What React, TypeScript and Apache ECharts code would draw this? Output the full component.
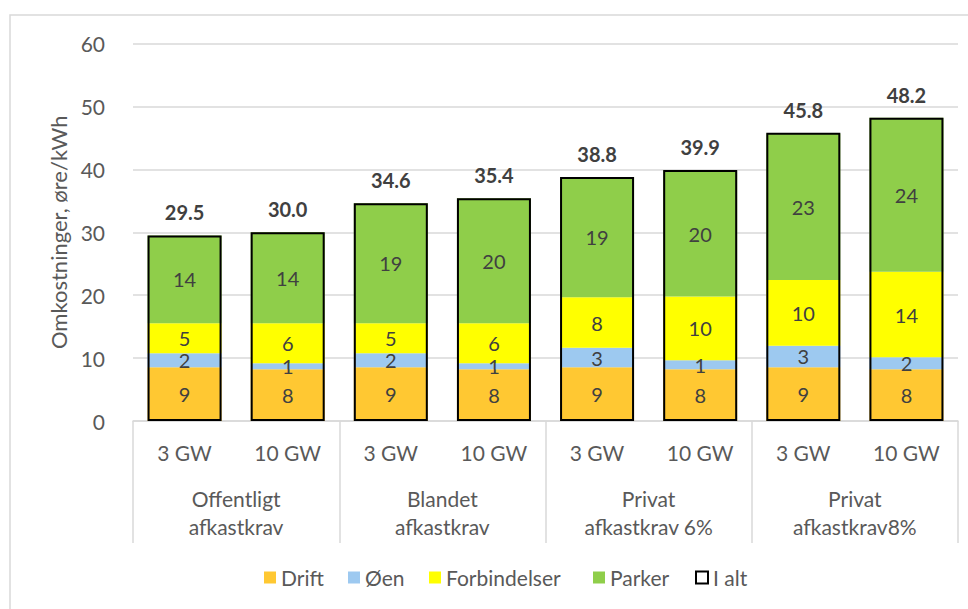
import React, { useEffect, useRef } from "react";
import * as echarts from "echarts";

const innerCats = ["3 GW", "10 GW", "3 GW", "10 GW", "3 GW", "10 GW", "3 GW", "10 GW"];
const groupCats = [
  "Offentligt\nafkastkrav",
  "Blandet\nafkastkrav",
  "Privat\nafkastkrav 6%",
  "Privat\nafkastkrav8%",
];
const drift = [8.53, 8.21, 8.53, 8.21, 8.53, 8.21, 8.53, 8.21];
const oen = [2.23, 0.96, 2.23, 0.96, 3.12, 1.45, 3.45, 1.91];
const forbindelser = [4.77, 6.36, 4.77, 6.36, 8.01, 10.12, 10.45, 13.61];
const parker = [13.97, 14.47, 19.07, 19.87, 19.14, 19.98, 23.28, 24.47];
const total = [29.5, 30.0, 34.6, 35.4, 38.8, 39.9, 45.8, 48.2];
const yTicks = { min: 0, max: 60, interval: 10 };
const legendNames = ["Drift", "Øen", "Forbindelser", "Parker", "I alt"];

const FONT = "Lato";
const GRAY = "#595959";
const DARK = "#404040";
const LINE = "#d9d9d9";

export default function App() {
  const ref = useRef<HTMLDivElement>(null);
  useEffect(() => {
    if (!ref.current) return;
    const chart = echarts.init(ref.current, undefined, { renderer: "svg" });
    const segLabel = {
      show: true,
      position: "inside",
      fontFamily: FONT,
      fontSize: 20,
      color: DARK,
      formatter: (p: any) => String(Math.round(p.value)),
    };
    const seg = (name: string, data: number[], color: string) => ({
      name,
      type: "bar",
      stack: "cost",
      data,
      barWidth: 74,
      barGap: "-100%",
      itemStyle: { color },
      label: segLabel,
      xAxisIndex: 0,
    });
    const legendLeft = [259, 343, 424, 588, 690];
    const legends = legendNames.map((n, i) => ({
      top: 562,
      left: legendLeft[i],
      itemWidth: 12,
      itemHeight: 12,
      itemGap: 8,
      icon: "rect",
      textStyle: { fontFamily: FONT, fontSize: 21, color: GRAY },
      data: [
        n === "I alt"
          ? { name: n, itemStyle: { color: "#ffffff", borderColor: "#000000", borderWidth: 2 } }
          : { name: n },
      ],
    }));
    chart.setOption({
      animation: false,
      textStyle: { fontFamily: FONT },
      graphic: [
        {
          type: "rect",
          shape: { x: 10, y: 15, width: 1000, height: 700 },
          style: { fill: "none", stroke: LINE, lineWidth: 1.5 },
          silent: true,
        },
      ],
      grid: { left: 133, right: 10, top: 43.5, bottom: 188, containLabel: false },
      legend: legends,
      xAxis: [
        {
          type: "category",
          data: innerCats,
          position: "bottom",
          axisLine: { show: true, lineStyle: { color: LINE, width: 1.5 } },
          axisTick: { show: false },
          axisLabel: { fontFamily: FONT, fontSize: 21, color: GRAY, margin: 21, interval: 0 },
        },
        {
          type: "category",
          data: groupCats,
          position: "bottom",
          axisLine: { show: false },
          axisTick: {
            show: true,
            interval: 0,
            length: 122,
            lineStyle: { color: LINE, width: 1.5 },
          },
          axisLabel: {
            fontFamily: FONT,
            fontSize: 21,
            color: GRAY,
            margin: 63,
            lineHeight: 28,
            interval: 0,
          },
        },
      ],
      yAxis: {
        type: "value",
        min: yTicks.min,
        max: yTicks.max,
        interval: yTicks.interval,
        name: "Omkostninger, øre/kWh",
        nameLocation: "middle",
        nameRotate: 90,
        nameGap: 64,
        nameTextStyle: { fontFamily: FONT, fontSize: 22, color: GRAY },
        axisLine: { show: false },
        axisTick: { show: false },
        axisLabel: { fontFamily: FONT, fontSize: 21, color: GRAY, margin: 28 },
        splitLine: { lineStyle: { color: LINE, width: 1.5 } },
      },
      series: [
        seg("Drift", drift, "#FFC832"),
        seg("Øen", oen, "#9DC9F0"),
        seg("Forbindelser", forbindelser, "#FFFF00"),
        seg("Parker", parker, "#8FCE4A"),
        {
          name: "I alt",
          type: "bar",
          data: total,
          barWidth: 74,
          barGap: "-100%",
          z: 5,
          xAxisIndex: 0,
          itemStyle: { color: "rgba(0,0,0,0)", borderColor: "#000000", borderWidth: 2 },
          label: {
            show: true,
            position: "top",
            distance: 13,
            fontFamily: FONT,
            fontSize: 20,
            fontWeight: "bold",
            color: DARK,
            formatter: (p: any) => Number(p.value).toFixed(1),
          },
        },
      ],
    });
    return () => chart.dispose();
  }, []);
  return (
    <div
      ref={ref}
      style={{ position: "fixed", left: 0, top: 0, width: 968, height: 609, background: "#fff" }}
    />
  );
}
